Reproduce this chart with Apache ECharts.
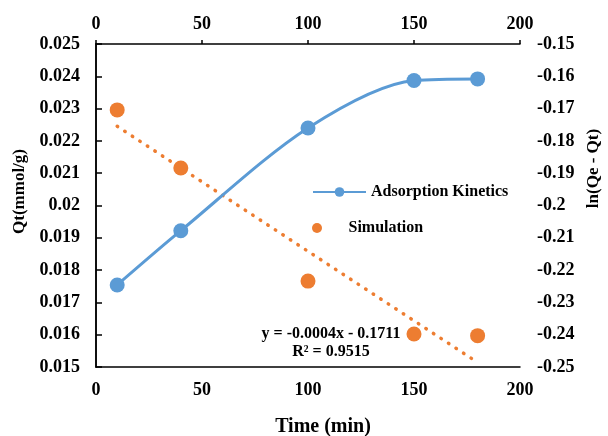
<!DOCTYPE html>
<html>
<head>
<meta charset="utf-8">
<script src="https://cdn.jsdelivr.net/npm/echarts@6/dist/echarts.min.js"></script>
<style>
  html, body { margin: 0; padding: 0; background: #fff; }
  #chart { width: 608px; height: 436px; }
</style>
</head>
<body>
<div id="chart"></div>
<script>
// time points (min)
const times = [10, 40, 100, 150, 180]
// adsorption kinetics, Qt (mmol/g), left axis
const qtValues = [0.01754, 0.01922, 0.02240, 0.02387, 0.02392]
// simulation, ln(Qe - Qt), right axis
const lnValues = [-0.1704, -0.1884, -0.2234, -0.2398, -0.2403]
const xTicks = [0, 50, 100, 150, 200]
const eqText = 'y = -0.0004x - 0.1711'
const r2Text = 'R² = 0.9515'

const BLUE = '#5B9BD5'
const ORANGE = '#ED7D31'
const FONT = '"Liberation Serif", "Times New Roman", serif'

// least squares trendline for the simulation points
function linearFit(xs, ys) {
  const n = xs.length
  const mx = xs.reduce((a, b) => a + b, 0) / n
  const my = ys.reduce((a, b) => a + b, 0) / n
  let sxy = 0, sxx = 0
  for (let i = 0; i < n; i++) {
    sxy += (xs[i] - mx) * (ys[i] - my)
    sxx += (xs[i] - mx) * (xs[i] - mx)
  }
  const k = sxy / sxx
  return { k: k, b: my - k * mx }
}
const fit = linearFit(times, lnValues)
const trendData = [times[0], times[times.length - 1]].map(x => [x, fit.k * x + fit.b])

const chart = echarts.init(document.getElementById('chart'))

const labelStyle = { color: '#000', fontFamily: FONT, fontWeight: 'bold', fontSize: 18 }
const axisLine = { show: true, lineStyle: { color: '#000', width: 1.5 } }

const option = {
  animation: false,
  grid: { left: 96, right: 88, top: 44, bottom: 69, outerBoundsMode: 'none', containLabel: false },
  legend: [
    {
      data: ['Adsorption Kinetics'],
      left: 307, top: 179,
      itemWidth: 53, itemHeight: 12, itemGap: 0,
      textStyle: { color: '#000', fontFamily: FONT, fontWeight: 'bold', fontSize: 16 }
    },
    {
      data: ['Simulation'],
      left: 307, top: 215,
      itemWidth: 53, itemHeight: 10, itemGap: 0,
      textStyle: { color: '#000', fontFamily: FONT, fontWeight: 'bold', fontSize: 16 }
    }
  ],
  xAxis: [
    {
      type: 'value', position: 'bottom',
      min: xTicks[0], max: xTicks[xTicks.length - 1], interval: 50,
      name: 'Time (min)', nameLocation: 'middle', nameGap: 50,
      nameTextStyle: { color: '#000', fontFamily: FONT, fontWeight: 'bold', fontSize: 20, padding: [0, 0, 0, 30] },
      axisLine: axisLine, axisTick: { show: false },
      axisLabel: Object.assign({ margin: 14 }, labelStyle),
      splitLine: { show: false }
    },
    {
      type: 'value', position: 'top',
      min: xTicks[0], max: xTicks[xTicks.length - 1], interval: 50,
      axisLine: axisLine,
      axisTick: { show: true, inside: false, length: 4, lineStyle: { color: '#000', width: 1.5 } },
      axisLabel: Object.assign({ margin: 11 }, labelStyle),
      splitLine: { show: false }
    }
  ],
  yAxis: [
    {
      type: 'value', position: 'left',
      min: 0.015, max: 0.025, interval: 0.001,
      name: 'Qt(mmol/g)', nameLocation: 'middle', nameGap: 68, nameRotate: 90,
      nameTextStyle: { color: '#000', fontFamily: FONT, fontWeight: 'bold', fontSize: 17, padding: [0, 0, 0, 28] },
      axisLine: axisLine, axisTick: { show: false },
      axisLabel: Object.assign({ margin: 16 }, labelStyle),
      splitLine: { show: false }
    },
    {
      type: 'value', position: 'right',
      min: -0.25, max: -0.15, interval: 0.01,
      name: 'ln(Qe - Qt)', nameLocation: 'middle', nameGap: 65, nameRotate: 90,
      nameTextStyle: { color: '#000', fontFamily: FONT, fontWeight: 'bold', fontSize: 17, padding: [0, 0, 0, 74] },
      axisLine: axisLine,
      axisTick: { show: true, inside: false, length: 6, lineStyle: { color: '#000', width: 1.5 } },
      axisLabel: Object.assign({ margin: 17 }, labelStyle),
      splitLine: { show: false }
    }
  ],
  series: [
    {
      name: 'Adsorption Kinetics',
      type: 'line',
      xAxisIndex: 0, yAxisIndex: 0,
      data: times.map((t, i) => [t, qtValues[i]]),
      smooth: 0.3,
      symbol: 'circle', symbolSize: 15,
      lineStyle: { color: BLUE, width: 3 },
      itemStyle: { color: BLUE, opacity: 1 }
    },
    {
      name: 'Simulation',
      type: 'scatter',
      xAxisIndex: 1, yAxisIndex: 1,
      data: times.map((t, i) => [t, lnValues[i]]),
      symbol: 'circle', symbolSize: 15,
      itemStyle: { color: ORANGE, opacity: 1 }
    },
    {
      name: 'Linear (Simulation)',
      type: 'line',
      xAxisIndex: 1, yAxisIndex: 1,
      data: trendData,
      symbol: 'none',
      lineStyle: { color: ORANGE, width: 3.5, type: [0.5, 8.5], cap: 'round' },
      z: 1
    }
  ],
  graphic: [
    {
      type: 'text',
      style: { text: eqText, x: 331, y: 334, textAlign: 'center', textVerticalAlign: 'middle',
        fill: '#000', font: 'bold 16px ' + FONT }
    },
    {
      type: 'text',
      style: { text: r2Text, x: 331, y: 352, textAlign: 'center', textVerticalAlign: 'middle',
        fill: '#000', font: 'bold 16px ' + FONT }
    }
  ]
}

chart.setOption(option)
</script>
</body>
</html>
